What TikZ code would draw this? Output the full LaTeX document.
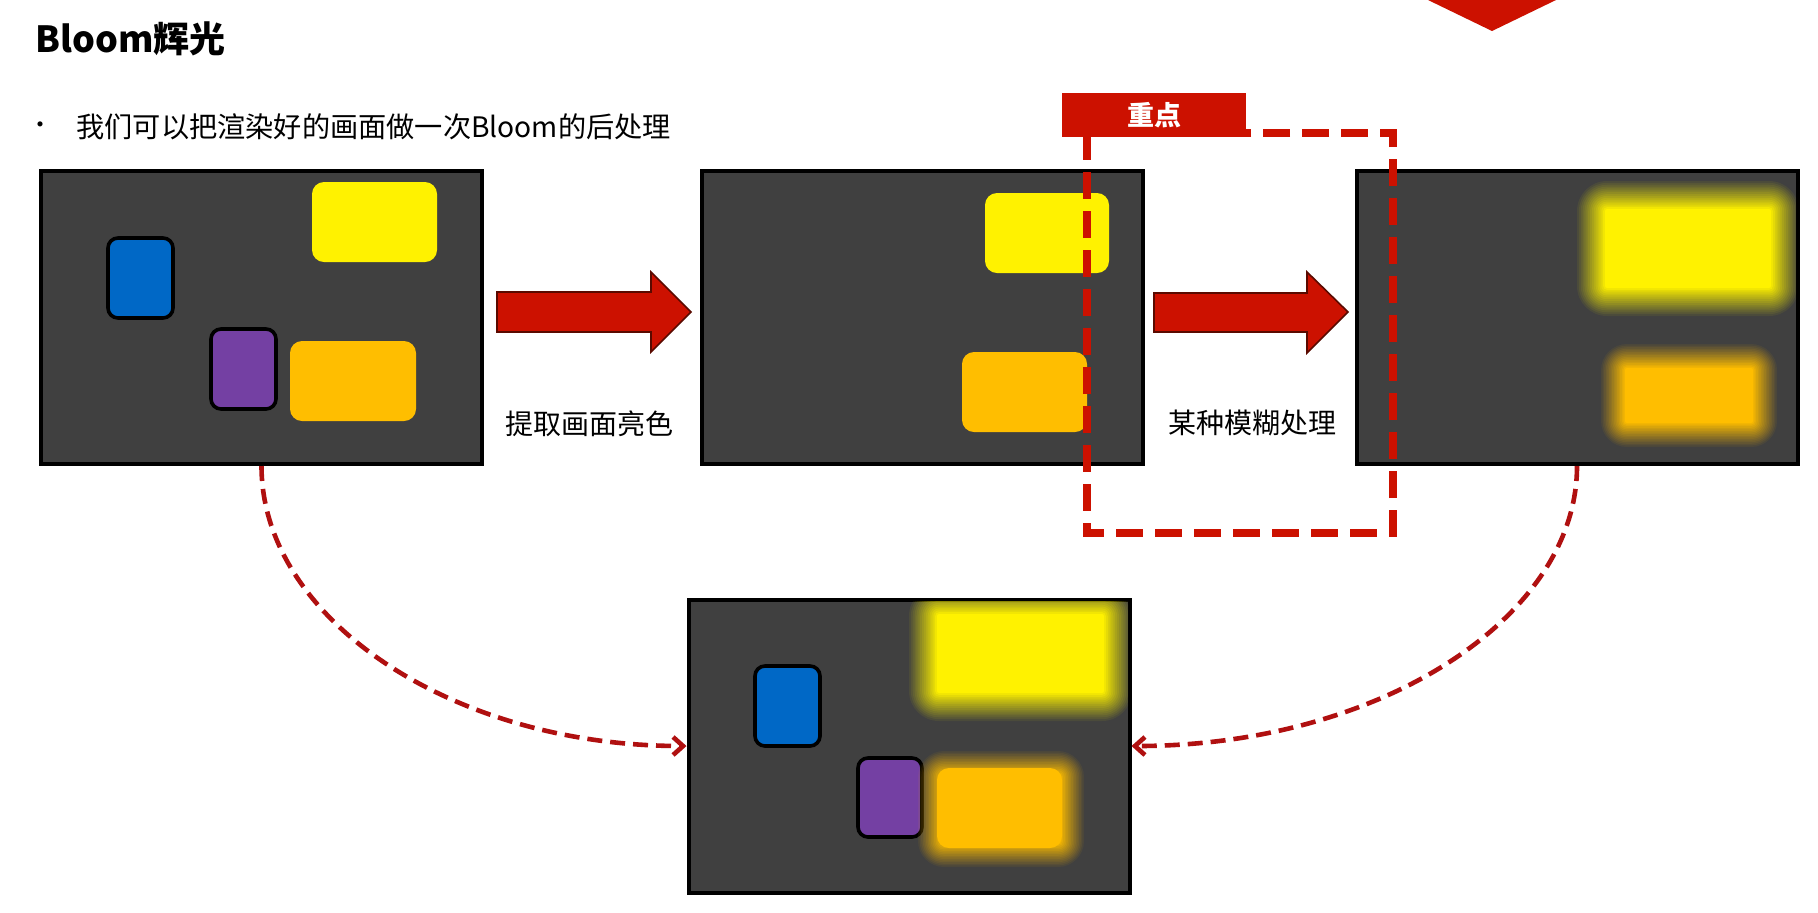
\documentclass[tikz,border=0pt]{standalone}
\usepackage{fontspec}
\setmainfont{Noto Sans CJK SC}
\usetikzlibrary{arrows.meta}
\definecolor{pgray}{HTML}{404040}
\definecolor{byellow}{HTML}{FFF200}
\definecolor{borange}{HTML}{FFBE00}
\definecolor{bblue}{HTML}{0068C6}
\definecolor{bpurple}{HTML}{7440A3}
\definecolor{bred}{HTML}{CC1100}
\definecolor{dred}{HTML}{B01010}
\definecolor{aedge}{HTML}{5A0A00}
% #1 x1, #2 y1, #3 x2, #4 y2, #5 colour, #6 spread, #7 corner radius (px)
\newcommand{\blurrect}[7]{%
  \foreach \k in {1,...,16}{%
    \pgfmathsetmacro{\ee}{#6*(1-2*(\k-1)/15)}%
    \pgfmathsetmacro{\aa}{1/(17-\k)}%
    \pgfmathsetmacro{\rr}{max(#7+\ee,0.5)*0.5}%
    \pgfmathsetmacro{\xa}{#1-(\ee)}%
    \pgfmathsetmacro{\ya}{#2-(\ee)}%
    \pgfmathsetmacro{\xb}{#3+(\ee)}%
    \pgfmathsetmacro{\yb}{#4+(\ee)}%
    \fill[#5, fill opacity=\aa, rounded corners=\rr pt] (\xa,\ya) rectangle (\xb,\yb);
  }%
}
\begin{document}
\begin{tikzpicture}[x=0.5pt,y=-0.5pt,
  panel/.style={draw=black, line width=2pt, fill=pgray, minimum width=220.5pt,
    minimum height=146.5pt, inner sep=0pt},
  brightbox/.style={rounded corners=6pt},
  darkbox/.style={draw=black, line width=1.8pt, rounded corners=5pt},
  blockarrow/.style={fill=bred, draw=aedge, line width=0.8pt},
  curvearrow/.style={draw=dred, line width=2.3pt, dash pattern=on 7.5pt off 4pt,
    -{Straight Barb[length=5pt,width=9pt]}},
  keyrect/.style={draw=bred, line width=4pt, dash pattern=on 13.5pt off 6pt},
  keylabel/.style={fill=bred, text=white, font=\bfseries\fontsize{13.5}{16}\selectfont,
    minimum width=92pt, minimum height=22pt, inner sep=0pt},
  caption/.style={font=\fontsize{14}{16}\selectfont, inner sep=0pt}
]
\useasboundingbox (0,0) rectangle (1818,912);
\fill[white] (0,0) rectangle (1818,912);

% title and bullet
\node[anchor=west, inner sep=0pt, font=\bfseries\fontsize{18}{21}\selectfont] (title) at (35,39) {Bloom辉光};
\node[inner sep=0pt, font=\fontsize{12}{16}\selectfont] (bullet) at (40,128) {•};
\node[anchor=west, inner sep=0pt, font=\fontsize{14.1}{16}\selectfont] (btext) at (76,127) {我们可以把渲染好的画面做一次Bloom的后处理};

% top decoration
\fill[bred] (1428,0) -- (1556,0) -- (1492,31) -- cycle;

% panels
\node[panel] (p1) at (261.5,317.5) {};
\node[panel] (p2) at (922.5,317.5) {};
\node[panel] (p3) at (1577,317.5) {};
\node[panel] (p4) at (909,746) {};

% panel 1 : rendered image
\fill[byellow, brightbox] (312,182) rectangle (437,262);
\draw[darkbox, fill=bblue] (108,238) rectangle (173,318);
\draw[darkbox, fill=bpurple] (211,329) rectangle (276,409);
\fill[borange, brightbox] (290,341) rectangle (416,421);

% panel 2 : bright parts
\fill[byellow, brightbox] (985,193) rectangle (1109,273);
\fill[borange, brightbox] (962,352) rectangle (1087,432);

% panel 3 : blurred
\begin{scope}
  \clip (1358,173) rectangle (1796,462);
  \blurrect{1591}{195}{1785}{302}{byellow}{14}{16}
  \blurrect{1613}{356}{1765}{435}{borange}{12}{14}
\end{scope}

% panel 4 : composite
\begin{scope}
  \clip (690,601) rectangle (1128,891);
  \draw[darkbox, fill=bblue] (755,666) rectangle (820,746);
  \draw[darkbox, fill=bpurple] (858,758) rectangle (922,837);
  \blurrect{923}{600}{1118}{707}{byellow}{14}{16}
  \blurrect{930}{763}{1072}{855}{borange}{12}{14}
  \fill[borange, brightbox] (937,768) rectangle (1062,848);
\end{scope}

% block arrows
\draw[blockarrow] (497,292) -- (651,292) -- (651,272) -- (691,312) -- (651,352) -- (651,332) -- (497,332) -- cycle;
\draw[blockarrow] (1154,293) -- (1307,293) -- (1307,272) -- (1348,312) -- (1307,353) -- (1307,332) -- (1154,332) -- cycle;

% captions
\node[caption] (c1) at (589,424) {提取画面亮色};
\node[caption] (c2) at (1252,423) {某种模糊处理};

% highlighted region
\draw[keyrect] (1087,133) rectangle (1393,533);
\node[keylabel] (key) at (1154,115) {重点};

% dashed curved connectors
\draw[curvearrow] (p1.south) .. controls +(0,153) and +(-234,0) .. (p4.west);
\draw[curvearrow] (p3.south) .. controls +(0,153) and +(246,0) .. (p4.east);
\end{tikzpicture}
\end{document}
